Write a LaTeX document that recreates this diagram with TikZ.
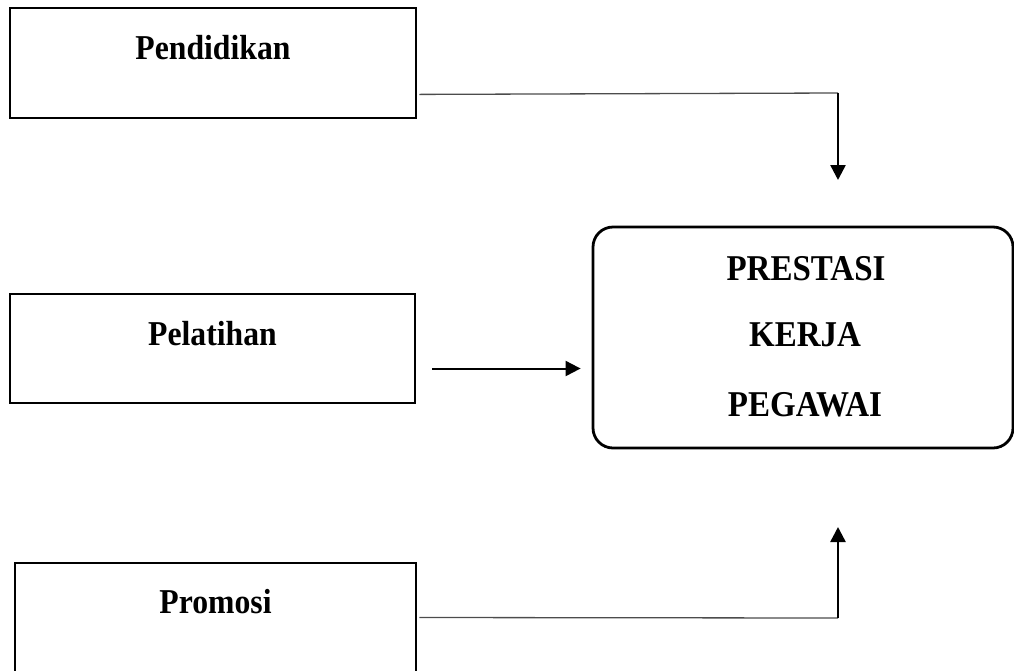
\documentclass[tikz,border=0pt]{standalone}
\usepackage{fontspec}
\usepackage{graphicx}
\setmainfont{Liberation Serif}
\usetikzlibrary{arrows.meta}

\begin{document}
\begin{tikzpicture}[x=1pt,y=-1pt,
  box/.style={draw,line width=2.8pt,rectangle,inner sep=0pt},
  lbl/.style={font=\fontsize{31.7}{38}\selectfont\bfseries,anchor=base,inner sep=0pt},
  caplbl/.style={font=\fontsize{33}{40}\selectfont\bfseries,anchor=base,inner sep=0pt},
  feed/.style={line width=1.3pt,draw=black!70},
  tip/.style={line width=2.5pt,-{Triangle[width=15pt,length=15pt]}}]
\useasboundingbox (0,0) rectangle (1014,670);
\clip (0,0) rectangle (1014,670);

% left boxes
\node[box,minimum width=406pt,minimum height=110pt] (pend) at (213,63) {};
\node[box,minimum width=405pt,minimum height=109pt] (pel) at (212.5,348.5) {};
\node[box,minimum width=401pt,minimum height=125pt] (prom) at (215.5,625.5) {};
\node[lbl] (tpend) at (213,59) {\scalebox{1}[1.1]{Pendidikan}};
\node[lbl] (tpel) at (212.5,345) {\scalebox{1}[1.1]{Pelatihan}};
\node[lbl] (tprom) at (215.5,613) {\scalebox{1}[1.1]{Promosi}};

% main box
\node[box,rounded corners=20pt,minimum width=420pt,minimum height=221pt] (main) at (803,337.5) {};
\node[caplbl] (t1) at (806,280) {\scalebox{1}[1.1]{PRESTASI}};
\node[caplbl] (t2) at (805,346) {\scalebox{1}[1.1]{KERJA}};
\node[caplbl] (t3) at (805,416) {\scalebox{1}[1.1]{PEGAWAI}};

% connectors
\coordinate (p1) at ([xshift=2pt,yshift=25pt]pend.south east);
\coordinate (k1) at (838,93);
\coordinate (e1) at (838,180);
\draw[feed] (p1) -- (k1);
\draw[tip] (k1) -- (e1);

\coordinate (p2) at ([xshift=16pt,yshift=-20pt]pel.east);
\coordinate (e2) at ([xshift=-11pt]main.west |- p2);
\draw[line width=2pt,-{Triangle[width=15pt,length=15pt]}] (p2) -- (e2);

\coordinate (p3) at ([xshift=2pt,yshift=8pt]prom.east);
\coordinate (k3) at (838,618);
\coordinate (e3) at (838,527);
\draw[feed] (p3) -- (k3);
\draw[tip] (k3) -- (e3);
\end{tikzpicture}
\end{document}
